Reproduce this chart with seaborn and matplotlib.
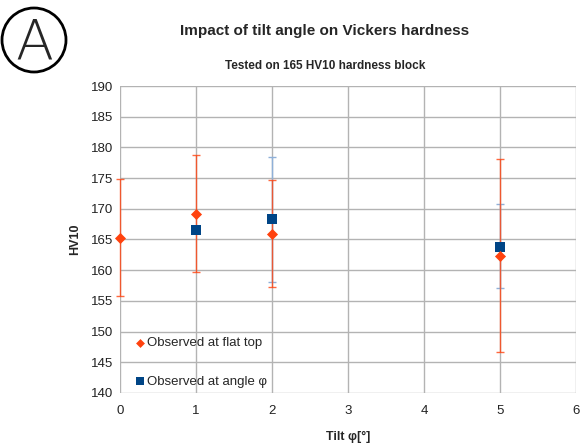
"""
Impact of tilt angle on Vickers hardness (165 HV10 block).
"""

import matplotlib
matplotlib.use("Agg")
import matplotlib.pyplot as plt
from matplotlib.patches import Circle
import numpy as np
import pandas as pd
import seaborn as sns

# données
tilt_flat = [0, 1, 2, 5]
hv_flat = [165.2, 169.2, 165.9, 162.3]
flat_low = [155.8, 159.7, 157.2, 146.6]
flat_high = [174.8, 178.7, 174.7, 178.1]

tilt_angle = [1, 2, 5]
hv_angle = [166.6, 168.3, 163.8]
angle_low = [np.nan, 158.0, 157.1]
angle_high = [np.nan, 178.4, 170.7]

ORANGE = "#ff420e"
BLEU = "#004586"
BLEU_CLAIR = "#8fb0d8"

sns.set_theme(style="whitegrid")
plt.rcParams["font.family"] = ["Liberation Sans", "DejaVu Sans"]

df_flat = pd.DataFrame({"tilt": tilt_flat, "hv": hv_flat, "lo": flat_low, "hi": flat_high})
df_angle = pd.DataFrame({"tilt": tilt_angle, "hv": hv_angle, "lo": angle_low, "hi": angle_high})

fig = plt.figure(figsize=(5.8, 4.48), dpi=100)
ax = fig.add_axes([0.207, 0.123, 0.786, 0.685])

# barres d'erreur (angle derrière, flat devant)
ok = df_angle["lo"].notna()
ax.errorbar(df_angle.loc[ok, "tilt"], df_angle.loc[ok, "hv"],
            yerr=[df_angle.loc[ok, "hv"] - df_angle.loc[ok, "lo"],
                  df_angle.loc[ok, "hi"] - df_angle.loc[ok, "hv"]],
            fmt="none", ecolor=BLEU_CLAIR, elinewidth=1, capsize=3, zorder=2)
eb = ax.errorbar(df_flat["tilt"], df_flat["hv"],
                 yerr=[df_flat["hv"] - df_flat["lo"], df_flat["hi"] - df_flat["hv"]],
                 fmt="none", ecolor=ORANGE, elinewidth=1, capsize=3, alpha=0.8, zorder=3)
for art in eb.lines[1] + eb.lines[2]:
    art.set_clip_on(False)

sns.scatterplot(data=df_angle, x="tilt", y="hv", marker="s", s=60, color=BLEU,
                edgecolor=BLEU, linewidth=0, ax=ax, zorder=4, label="Observed at angle φ")
sns.scatterplot(data=df_flat, x="tilt", y="hv", marker="D", s=32, color=ORANGE,
                edgecolor=ORANGE, linewidth=0, ax=ax, zorder=5, label="Observed at flat top")
for coll in ax.collections:
    coll.set_clip_on(False)

ax.set_xlim(0, 6)
ax.set_ylim(140, 190)
ax.set_xticks(range(0, 7))
ax.set_yticks(range(140, 191, 5))
ax.grid(True, color="#b3b3b3", linewidth=1)
for s in ax.spines.values():
    s.set_visible(False)
ax.tick_params(axis="both", labelsize=9.5, colors="#222222", length=0, pad=5)
ax.tick_params(axis="x", pad=9)
ax.set_xlabel("Tilt φ[°]", fontsize=9, fontweight="bold", labelpad=10)
ax.set_ylabel("HV10", fontsize=9, fontweight="bold", labelpad=7)

handles, labels = ax.get_legend_handles_labels()
ax.legend(handles[::-1], labels[::-1], loc="lower left", bbox_to_anchor=(-0.008, -0.018),
          frameon=False, fontsize=9.5, handletextpad=-0.5, labelspacing=2.0,
          markerscale=0.8, borderaxespad=0.4)

fig.text(0.56, 0.93, "Impact of tilt angle on Vickers hardness", ha="center",
         va="center", fontsize=11, fontweight="bold")
fig.text(0.56, 0.853, "Tested on 165 HV10 hardness block", ha="center",
         va="center", fontsize=8.5, fontweight="bold")

# logo A entouré
fig.patches.append(Circle((34, 448 - 40), 32, transform=None, fill=False,
                          edgecolor="black", linewidth=2))
fig.text(34 / 580, 1 - 44 / 448, "A", ha="center", va="center", fontsize=40,
         family="DejaVu Sans", fontweight="light")

fig.savefig("out.png", dpi=100)
plt.close(fig)
